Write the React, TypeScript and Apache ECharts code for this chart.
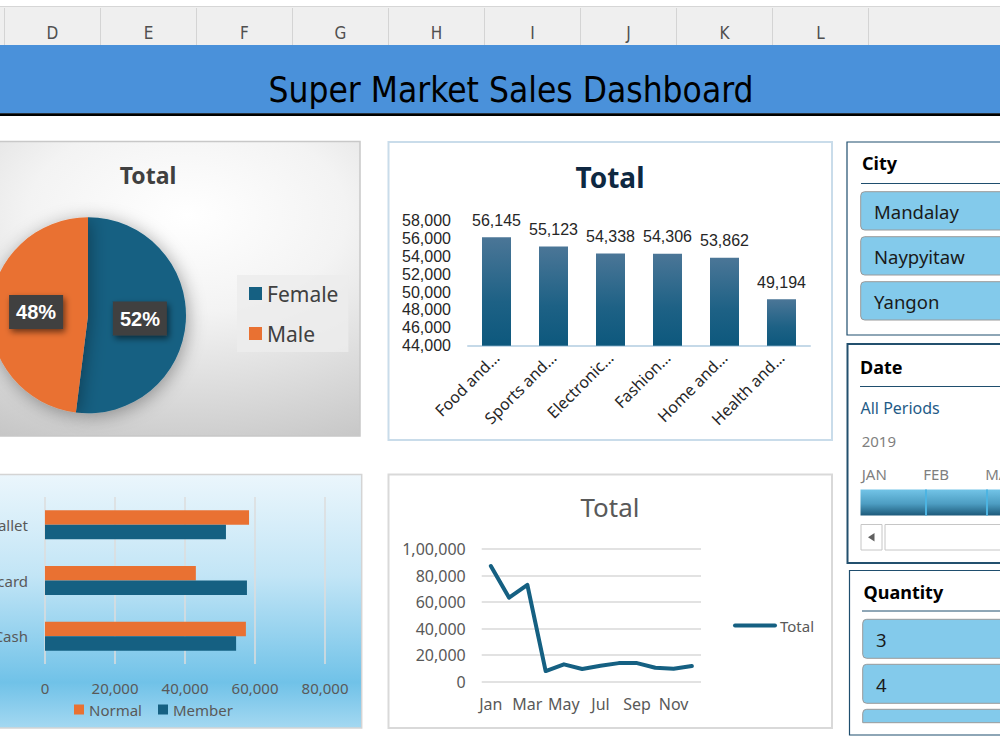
import React, { useEffect, useRef } from 'react';
import * as echarts from 'echarts';

const columnLetters = ['D', 'E', 'F', 'G', 'H', 'I', 'J', 'K', 'L'];
const dashboardTitle = 'Super Market Sales Dashboard';
const genderNames = ['Female', 'Male'];
const genderSales = [167882, 155084];
const productLines = ['Food and beverages', 'Sports and travel', 'Electronic accessories', 'Fashion accessories', 'Home and lifestyle', 'Health and beauty'];
const productSales = [56145, 55123, 54338, 54306, 53862, 49194];
const paymentTypes = ['Cash', 'Credit card', 'Ewallet'];
const normalSales = [57400, 43100, 58300];
const memberSales = [54600, 57700, 51700];
const months = ['Jan', 'Feb', 'Mar', 'Apr', 'May', 'Jun', 'Jul', 'Aug', 'Sep', 'Oct', 'Nov', 'Dec'];
const monthlySales = [87200, 63300, 72900, 8000, 13100, 9600, 12000, 14000, 14000, 10500, 9800, 11800];
const cities = ['Mandalay', 'Naypyitaw', 'Yangon'];
const timelineYear = '2019';
const timelineMonths = ['JAN', 'FEB', 'MAR'];
const quantities = ['3', '4'];

const APTOS = '"Noto Sans", "Open Sans", sans-serif';
const ARIAL = '"Liberation Sans", Arial, sans-serif';
const NARROW = '"Liberation Sans Narrow", "DejaVu Sans Condensed", sans-serif';
const TEAL = '#156082';
const ORANGE = '#E97132';

const commas = (v: number) => Number(v).toLocaleString('en-US');
const indian = (v: number) => {
  const s = String(Math.round(v));
  if (s.length <= 3) return s;
  const last3 = s.slice(-3);
  const rest = s.slice(0, -3).replace(/\B(?=(\d{2})+(?!\d))/g, ',');
  return rest + ',' + last3;
};
const shortLabel = (name: string) => {
  const w = name.split(' ');
  return (w[1] === 'and' ? w[0] + ' and' : w[0]) + '…';
};

function txt(text: string, x: number, y: number, font: string, fill: string, align = 'left', z = 10) {
  return {
    type: 'text', x, y, z,
    style: { text, fill, font, align, textAlign: align, verticalAlign: 'middle', textVerticalAlign: 'middle' },
  };
}
function rect(x: number, y: number, width: number, height: number, style: any, z = -1, r: any = 0) {
  return { type: 'rect', z, shape: { x, y, width, height, r }, style };
}
function hline(x1: number, x2: number, y: number, stroke: string, lineWidth = 1, z = 5) {
  return { type: 'line', z, shape: { x1, y1: y, x2, y2: y }, style: { stroke, lineWidth } };
}

function buildGraphics() {
  const g: any[] = [];
  // Excel header
  g.push(rect(0, 0, 1000, 6, { fill: '#ffffff' }));
  g.push(rect(0, 6, 1000, 39, { fill: '#efefef' }));
  g.push(hline(0, 1000, 6.5, '#d6d6d6', 1));
  for (let i = 0; i < 10; i++) {
    const x = 4.5 + 96 * i;
    g.push({ type: 'line', z: 5, shape: { x1: x, y1: 8, x2: x, y2: 45 }, style: { stroke: '#d4d4d4', lineWidth: 1 } });
  }
  columnLetters.forEach((c, i) => g.push(txt(c, 52.5 + 96 * i, 33, '17px ' + NARROW, '#505050', 'center')));
  // Blue band
  g.push(rect(0, 45, 1000, 68.5, { fill: '#4a91da' }));
  g.push(rect(0, 113.3, 1000, 2.7, { fill: '#000000' }));
  g.push(txt(dashboardTitle, 511, 90, '35px ' + NARROW, '#000000', 'center'));

  // Pie panel
  g.push(rect(-120, 141.5, 480, 294.5, {
    fill: new echarts.graphic.RadialGradient(0.64, 0.25, 0.95, [
      { offset: 0, color: '#ffffff' },
      { offset: 0.35, color: '#f3f3f3' },
      { offset: 1, color: '#bdbdbd' },
    ]),
    stroke: '#c8c8c8', lineWidth: 1.5,
  }, -2));
  g.push(txt('Total', 148, 175, 'bold 23px ' + APTOS, '#404040', 'center'));

  // Column bar panel
  g.push(rect(388.5, 142, 443.5, 298, { fill: '#ffffff', stroke: '#c9dcea', lineWidth: 2 }, -2));
  g.push(txt('Total', 610, 177, 'bold 28px ' + APTOS, '#0e2841', 'center'));

  // Horizontal bar panel
  g.push(rect(-120, 474.5, 481.7, 253.5, {
    fill: new echarts.graphic.LinearGradient(0, 0, 0, 1, [
      { offset: 0, color: '#ebf6fc' },
      { offset: 0.4, color: '#c2e5f6' },
      { offset: 0.82, color: '#70c2e8' },
      { offset: 1, color: '#a4d8f1' },
    ]),
    stroke: '#d4d4d4', lineWidth: 1.5,
  }, -2));

  // Line panel
  g.push(rect(388.5, 474.5, 443.5, 253.5, { fill: '#ffffff', stroke: '#d9d9d9', lineWidth: 2 }, -2));
  g.push(txt('Total', 610, 507, '26px ' + APTOS, '#595959', 'center'));

  // City slicer
  g.push(rect(847, 142, 170, 193, { fill: '#ffffff', stroke: '#1f4e6e', lineWidth: 1.2 }, 1));
  g.push(txt('City', 862, 163, 'bold 18px ' + APTOS, '#000000'));
  g.push(hline(861, 1000, 183.5, '#1f4e6e', 1));
  cities.forEach((c, i) => {
    const y = 191.7 + 45 * i;
    g.push(rect(860.7, y, 160, 38.3, { fill: '#83caeb', stroke: '#9a9a9a', lineWidth: 1 }, 3, 4));
    g.push(txt(c, 874, y + 19.5, '18.5px ' + APTOS, '#1a1a1a'));
  });

  // Date slicer
  g.push(rect(847.5, 344, 170, 219, { fill: '#ffffff', stroke: '#23506e', lineWidth: 2 }, 1));
  g.push(txt('Date', 860, 366.7, 'bold 18px ' + APTOS, '#000000'));
  g.push(hline(860, 1000, 386.5, '#1f4e6e', 1));
  g.push(txt('All Periods', 860.5, 408.3, '16px ' + APTOS, '#1f5b87'));
  g.push(txt(timelineYear, 861.7, 440.5, '15px ' + APTOS, '#7f7f7f'));
  timelineMonths.forEach((m, i) => g.push(txt(m, 861.7 + 61.5 * i + (i === 2 ? 0.5 : 0), 474, '15px ' + APTOS, '#7f7f7f')));
  g.push(rect(860.5, 489.5, 150, 26, {
    fill: new echarts.graphic.LinearGradient(0, 0, 0, 1, [
      { offset: 0, color: '#72c4e7' },
      { offset: 0.55, color: '#4d9dc2' },
      { offset: 1, color: '#1d5a7a' },
    ]),
  }, 3));
  [926, 987].forEach((x) => g.push({ type: 'line', z: 4, shape: { x1: x, y1: 489.5, x2: x, y2: 515.5 }, style: { stroke: '#4cb4e2', lineWidth: 2 } }));
  g.push(rect(861, 524.5, 21, 25.5, { fill: '#ffffff', stroke: '#c6c6c6', lineWidth: 1 }, 3));
  g.push({ type: 'polygon', z: 4, shape: { points: [[868, 537.3], [874.5, 533], [874.5, 541.6]] }, style: { fill: '#606060' } });
  g.push(rect(885, 524.5, 130, 25.5, { fill: '#ffffff', stroke: '#c6c6c6', lineWidth: 1 }, 3));

  // Quantity slicer
  g.push(rect(849.5, 570.5, 170, 164.5, { fill: '#ffffff', stroke: '#1f4e6e', lineWidth: 1.2 }, 1));
  g.push(txt('Quantity', 863.5, 591.7, 'bold 18px ' + APTOS, '#000000'));
  g.push(hline(862, 1000, 611, '#1f4e6e', 1));
  quantities.forEach((q, i) => {
    const y = 619.3 + 45 * i;
    g.push(rect(862.7, y, 160, 39, { fill: '#83caeb', stroke: '#9a9a9a', lineWidth: 1 }, 3, 4));
    g.push(txt(q, 876, y + 20, '18.5px ' + APTOS, '#1a1a1a'));
  });
  g.push(rect(862.7, 709.3, 160, 13.4, { fill: '#83caeb', stroke: '#9a9a9a', lineWidth: 1 }, 3, [4, 4, 0, 0]));
  return g;
}

export default function App() {
  const ref = useRef<HTMLDivElement>(null);
  useEffect(() => {
    if (!ref.current) return;
    const chart = echarts.init(ref.current, null, { renderer: 'svg' });
    const option: any = {
      animation: false,
      backgroundColor: '#ffffff',
      textStyle: { fontFamily: APTOS },
      graphic: buildGraphics(),
      grid: [
        { left: 468, top: 220.7, width: 342, height: 125, containLabel: false, outerBoundsMode: 'none' },
        { left: 45, top: 497, width: 280, height: 167, containLabel: false, outerBoundsMode: 'none' },
        { left: 481.7, top: 549, width: 219.3, height: 132.7, containLabel: false, outerBoundsMode: 'none' },
      ],
      xAxis: [
        {
          gridIndex: 0, type: 'category', data: productLines,
          axisTick: { show: false },
          axisLine: { lineStyle: { color: '#c5d9e8', width: 2 } },
          axisLabel: { rotate: 45, interval: 0, margin: 9, fontSize: 16, color: '#262626', fontFamily: APTOS, formatter: shortLabel },
        },
        {
          gridIndex: 1, type: 'value', min: 0, max: 80000, interval: 20000,
          axisLine: { show: false }, axisTick: { show: false },
          splitLine: { lineStyle: { color: '#dcdcdc', width: 1.5 } },
          axisLabel: { margin: 16, fontSize: 15, color: '#595959', fontFamily: APTOS, formatter: commas },
        },
        {
          gridIndex: 2, type: 'category', data: months,
          axisLine: { show: false }, axisTick: { show: false },
          axisLabel: { interval: 1, margin: 14, fontSize: 16, color: '#595959', fontFamily: APTOS },
        },
      ],
      yAxis: [
        {
          gridIndex: 0, type: 'value', min: 44000, max: 58000, interval: 2000,
          axisLine: { show: false }, axisTick: { show: false }, splitLine: { show: false },
          axisLabel: { margin: 17, fontSize: 16, color: '#262626', fontFamily: ARIAL, formatter: commas },
        },
        {
          gridIndex: 1, type: 'category', data: paymentTypes,
          axisLine: { show: false }, axisTick: { show: false },
          axisLabel: { margin: 17, fontSize: 15, color: '#595959', fontFamily: APTOS },
        },
        {
          gridIndex: 2, type: 'value', min: 0, max: 100000, interval: 20000,
          axisLine: { show: false }, axisTick: { show: false },
          splitLine: { lineStyle: { color: '#d9d9d9', width: 1.5 } },
          axisLabel: { margin: 16, fontSize: 16, color: '#595959', fontFamily: APTOS, formatter: indian },
        },
      ],
      legend: [
        {
          data: genderNames, orient: 'vertical', left: 237, top: 275,
          backgroundColor: 'rgba(236,236,236,0.85)', padding: [8, 10, 8, 12],
          itemWidth: 13, itemHeight: 13, itemGap: 19, icon: 'rect',
          textStyle: { fontSize: 21, color: '#404040', fontFamily: APTOS },
        },
        {
          data: ['Normal', 'Member'], left: 74, top: 702, padding: 0,
          itemWidth: 10, itemHeight: 10, itemGap: 16, icon: 'rect',
          textStyle: { fontSize: 15, color: '#595959', fontFamily: APTOS },
        },
        {
          data: ['Total'], left: 733, top: 618, padding: 0,
          itemWidth: 40, itemHeight: 14,
          itemStyle: { opacity: 0 },
          lineStyle: { width: 4, color: TEAL, cap: 'round' },
          textStyle: { fontSize: 15, color: '#595959', fontFamily: APTOS },
        },
      ],
      series: [
        {
          name: 'Sales', type: 'bar', xAxisIndex: 0, yAxisIndex: 0, data: productSales,
          barWidth: 29,
          itemStyle: {
            color: new echarts.graphic.LinearGradient(0, 0, 0, 1, [
              { offset: 0, color: '#4b7697' },
              { offset: 0.6, color: '#1d6185' },
              { offset: 1, color: '#0d587d' },
            ]),
          },
          label: { show: true, position: 'top', distance: 9, fontSize: 16, color: '#262626', fontFamily: ARIAL, formatter: (p: any) => commas(p.value) },
        },
        {
          name: 'Normal', type: 'bar', xAxisIndex: 1, yAxisIndex: 1, data: normalSales,
          barWidth: 14.5, barGap: '0%', itemStyle: { color: ORANGE },
        },
        {
          name: 'Member', type: 'bar', xAxisIndex: 1, yAxisIndex: 1, data: memberSales,
          barWidth: 14.5, barGap: '0%', itemStyle: { color: TEAL },
        },
        {
          name: 'Total', type: 'line', xAxisIndex: 2, yAxisIndex: 2, data: monthlySales,
          symbol: 'none', showSymbol: false,
          lineStyle: { color: TEAL, width: 4, cap: 'round', join: 'round' },
          itemStyle: { color: TEAL },
        },
        {
          name: 'Gender', type: 'pie', center: [88, 315.3], radius: 98,
          startAngle: 90, clockwise: true,
          data: genderNames.map((n, i) => ({ name: n, value: genderSales[i], itemStyle: { color: i === 0 ? TEAL : ORANGE } })),
          itemStyle: { shadowBlur: 18, shadowColor: 'rgba(0,0,0,0.35)', shadowOffsetX: 2, shadowOffsetY: 3 },
          labelLine: { show: false },
          label: {
            show: true, position: 'inside',
            formatter: (p: any) => Math.round(p.percent) + '%',
            fontSize: 20, fontWeight: 'bold', color: '#ffffff', fontFamily: ARIAL,
            backgroundColor: '#3f3f3f', padding: [7, 7],
            shadowColor: 'rgba(0,0,0,0.55)', shadowBlur: 6, shadowOffsetX: 2, shadowOffsetY: 3,
          },
        },
      ],
    };
    chart.setOption(option);
    return () => chart.dispose();
  }, []);
  return <div ref={ref} style={{ position: 'fixed', left: 0, top: 0, width: 1000, height: 750 }} />;
}
